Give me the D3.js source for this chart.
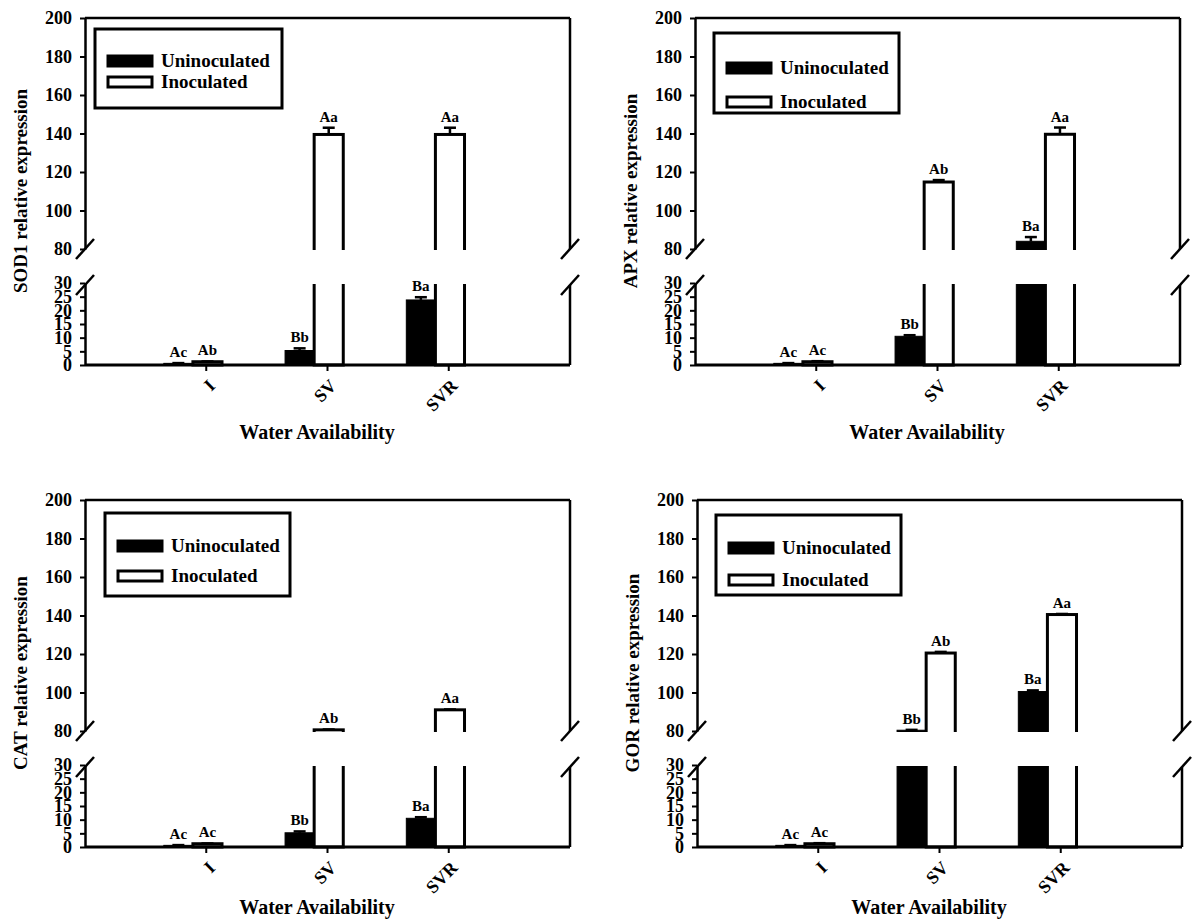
<!DOCTYPE html>
<html>
<head>
<meta charset="utf-8">
<script src="https://cdn.jsdelivr.net/npm/d3@7"></script>
<style>
  body { margin: 0; background: #fff; }
  svg text { font-family: "Liberation Serif", "Times New Roman", Tinos, "DejaVu Serif", serif !important; font-weight: bold; fill: #000; }
</style>
</head>
<body>
<div id="container"></div>
<script>
/* DATA */
const categories = ["I", "SV", "SVR"];
const seriesNames = ["Uninoculated", "Inoculated"];
const upperTicks = [80, 100, 120, 140, 160, 180, 200];
const lowerTicks = [0, 5, 10, 15, 20, 25, 30];

// SOD1
const sod1Uninoc = [0.6, 5.3, 23.8];
const sod1UninocErr = [0.1, 0.8, 1.0];
const sod1Inoc = [1.2, 139.5, 139.5];
const sod1InocErr = [0.1, 3.5, 3.5];
const sod1UninocLetters = ["Ac", "Bb", "Ba"];
const sod1InocLetters = ["Ab", "Aa", "Aa"];

// APX
const apxUninoc = [0.6, 10.5, 84];
const apxUninocErr = [0.1, 0.4, 2.2];
const apxInoc = [1.2, 114.8, 139.6];
const apxInocErr = [0.2, 1.0, 3.5];
const apxUninocLetters = ["Ac", "Bb", "Ba"];
const apxInocLetters = ["Ac", "Ab", "Aa"];

// CAT
const catUninoc = [0.6, 5.2, 10.5];
const catUninocErr = [0.1, 0.5, 0.4];
const catInoc = [1.2, 80.6, 91];
const catInocErr = [0.1, 0.2, 0.2];
const catUninocLetters = ["Ac", "Bb", "Ba"];
const catInocLetters = ["Ac", "Ab", "Aa"];

// GOR
const gorUninoc = [0.6, 80.4, 100.5];
const gorUninocErr = [0.1, 0.2, 0.6];
const gorInoc = [1.2, 120.5, 140.5];
const gorInocErr = [0.2, 0.6, 0.3];
const gorUninocLetters = ["Ac", "Bb", "Ba"];
const gorInocLetters = ["Ac", "Ab", "Aa"];

/* CONSTANTS AND LAYOUT */
const width = 1192, height = 919;
const panelW = 485;
const yTop = 0, y80 = 231, y30 = 265, y0 = 347;
const serif = "'Liberation Serif', 'Times New Roman', Tinos, 'DejaVu Serif', serif";

const panels = [
  { gene: "SOD1", un: sod1Uninoc, unErr: sod1UninocErr, inoc: sod1Inoc, inocErr: sod1InocErr,
    unL: sod1UninocLetters, inL: sod1InocLetters,
    ox: 85, oy: 18, legend: { x: 10, y: 11, w: 187, h: 79, rows: [32, 53] }, titleY: 421 },
  { gene: "APX", un: apxUninoc, unErr: apxUninocErr, inoc: apxInoc, inocErr: apxInocErr,
    unL: apxUninocLetters, inL: apxInocLetters,
    ox: 695, oy: 18, legend: { x: 19, y: 15, w: 185, h: 80, rows: [35, 69] }, titleY: 421 },
  { gene: "CAT", un: catUninoc, unErr: catUninocErr, inoc: catInoc, inocErr: catInocErr,
    unL: catUninocLetters, inL: catInocLetters,
    ox: 85, oy: 500, legend: { x: 20, y: 13, w: 185, h: 83, rows: [33, 63] }, titleY: 414 },
  { gene: "GOR", un: gorUninoc, unErr: gorUninocErr, inoc: gorInoc, inocErr: gorInocErr,
    unL: gorUninocLetters, inL: gorInocLetters,
    ox: 697, oy: 500, legend: { x: 19, y: 15, w: 185, h: 80, rows: [33, 65] }, titleY: 414 }
];

// scales shared by every panel (local coordinates)
const x = d3.scaleLinear().domain([0, 4]).range([0, panelW]);
const yUp = d3.scaleLinear().domain([80, 200]).range([y80, yTop]);
const yLow = d3.scaleLinear().domain([0, 30]).range([y0, y30]);

// offsets (in category units) for the two bars of a group
const barW = 0.24;
const barLeft = [-0.35, -0.11];

const svg = d3.select("#container")
  .append("svg")
  .attr("width", width)
  .attr("height", height);

const defs = svg.append("defs");
defs.append("clipPath").attr("id", "clipUp")
  .append("rect").attr("x", -20).attr("y", -20).attr("width", panelW + 40).attr("height", y80 + 1 + 20);
defs.append("clipPath").attr("id", "clipLow")
  .append("rect").attr("x", -20).attr("y", y30 + 1).attr("width", panelW + 40).attr("height", y0 - y30 + 20);

function slash(g, cx, cy) {
  g.append("line")
    .attr("x1", cx - 9).attr("y1", cy + 10)
    .attr("x2", cx + 9).attr("y2", cy - 10)
    .attr("stroke", "#000").attr("stroke-width", 2.5);
}

function drawPanel(p) {
  const g = svg.append("g").attr("transform", `translate(${p.ox},${p.oy})`);

  // bars: build rows for both series
  const rows = [];
  categories.forEach((c, i) => {
    rows.push({ i, s: 0, v: p.un[i], e: p.unErr[i], lab: p.unL[i] });
    rows.push({ i, s: 1, v: p.inoc[i], e: p.inocErr[i], lab: p.inL[i] });
  });
  const bx = d => x(d.i + 1 + barLeft[d.s]);
  const bw = x(barW) - x(0);

  // lower segment of bars
  g.append("g").attr("clip-path", "url(#clipLow)")
    .selectAll("rect")
    .data(rows)
    .join("rect")
    .attr("x", bx)
    .attr("width", bw)
    .attr("y", d => d.v > 30 ? y30 - 20 : yLow(d.v))
    .attr("height", d => y0 - (d.v > 30 ? y30 - 20 : yLow(d.v)))
    .attr("fill", d => d.s === 0 ? "#000" : "#fff")
    .attr("stroke", "#000")
    .attr("stroke-width", d => d.s === 0 ? 1 : 3);

  // upper segment of bars
  g.append("g").attr("clip-path", "url(#clipUp)")
    .selectAll("rect")
    .data(rows.filter(d => d.v > 80))
    .join("rect")
    .attr("x", bx)
    .attr("width", bw)
    .attr("y", d => yUp(d.v))
    .attr("height", d => y80 + 20 - yUp(d.v))
    .attr("fill", d => d.s === 0 ? "#000" : "#fff")
    .attr("stroke", "#000")
    .attr("stroke-width", d => d.s === 0 ? 1 : 3);

  const yv = v => v > 30 ? yUp(v) : yLow(v);

  // error bars (upper half only)
  const err = g.append("g").selectAll("g").data(rows).join("g");
  err.append("line")
    .attr("x1", d => bx(d) + bw / 2).attr("x2", d => bx(d) + bw / 2)
    .attr("y1", d => yv(d.v)).attr("y2", d => yv(d.v + d.e))
    .attr("stroke", "#000").attr("stroke-width", 2.5);
  err.append("line")
    .attr("x1", d => bx(d) + bw / 2 - 6).attr("x2", d => bx(d) + bw / 2 + 6)
    .attr("y1", d => yv(d.v + d.e)).attr("y2", d => yv(d.v + d.e))
    .attr("stroke", "#000").attr("stroke-width", 2.5);

  // significance letters
  g.append("g").selectAll("text")
    .data(rows)
    .join("text")
    .attr("x", d => bx(d) + bw / 2)
    .attr("y", d => yv(d.v + d.e) - 6)
    .attr("text-anchor", "middle")
    .style("font-size", "15px")
    .text(d => d.lab);

  // frame: top, bottom, right spine with break
  g.append("line").attr("x1", 0).attr("x2", panelW).attr("y1", yTop).attr("y2", yTop)
    .attr("stroke", "#000").attr("stroke-width", 2.5);
  g.append("line").attr("x1", 0).attr("x2", panelW).attr("y1", y0).attr("y2", y0)
    .attr("stroke", "#000").attr("stroke-width", 3);
  g.append("line").attr("x1", panelW).attr("x2", panelW).attr("y1", yTop).attr("y2", y80)
    .attr("stroke", "#000").attr("stroke-width", 2.5);
  g.append("line").attr("x1", panelW).attr("x2", panelW).attr("y1", y30 + 2).attr("y2", y0)
    .attr("stroke", "#000").attr("stroke-width", 2.5);
  slash(g, panelW, y80);
  slash(g, panelW, y30 + 2);

  // y axes
  const axUp = g.append("g")
    .call(d3.axisLeft(yUp).tickValues(upperTicks).tickSize(5).tickSizeOuter(0).tickPadding(8));
  const axLow = g.append("g")
    .call(d3.axisLeft(yLow).tickValues(lowerTicks).tickSize(5).tickSizeOuter(0).tickPadding(8));
  [axUp, axLow].forEach(a => {
    a.attr("font-family", serif).attr("font-size", 18);
    a.select(".domain").attr("stroke-width", 2.5);
    a.selectAll(".tick line").attr("stroke-width", 2);
  });
  slash(g, 0, y80);
  slash(g, 0, y30 + 2);

  // x ticks and rotated labels
  const xt = g.append("g").selectAll("g")
    .data(categories)
    .join("g")
    .attr("transform", (d, i) => `translate(${x(i + 1)},${y0})`);
  xt.append("line").attr("y1", 0).attr("y2", 6).attr("stroke", "#000").attr("stroke-width", 2);
  xt.append("text")
    .attr("transform", "translate(1,13) rotate(-45)")
    .attr("text-anchor", "end")
    .attr("dy", "0.7em")
    .style("font-size", "18px")
    .text(d => d);

  // axis titles
  g.append("text")
    .attr("x", 232).attr("y", p.titleY)
    .attr("text-anchor", "middle")
    .style("font-size", "20px")
    .text("Water Availability");
  g.append("text")
    .attr("transform", `translate(-58,173) rotate(-90)`)
    .attr("text-anchor", "middle")
    .style("font-size", "19px")
    .text(`${p.gene} relative expression`);

  // legend
  const L = p.legend;
  const lg = g.append("g").attr("transform", `translate(${L.x},${L.y})`);
  lg.append("rect").attr("width", L.w).attr("height", L.h)
    .attr("fill", "#fff").attr("stroke", "#000").attr("stroke-width", 3);
  const item = lg.selectAll("g.item")
    .data(seriesNames)
    .join("g")
    .attr("class", "item")
    .attr("transform", (d, i) => `translate(0,${L.rows[i]})`);
  item.append("rect")
    .attr("x", 13).attr("y", -5).attr("width", 44).attr("height", 10)
    .attr("fill", (d, i) => i === 0 ? "#000" : "#fff")
    .attr("stroke", "#000").attr("stroke-width", 3);
  item.append("text")
    .attr("x", 66).attr("y", 6)
    .style("font-size", "19px")
    .text(d => d);
}

panels.forEach(drawPanel);
</script>
</body>
</html>
